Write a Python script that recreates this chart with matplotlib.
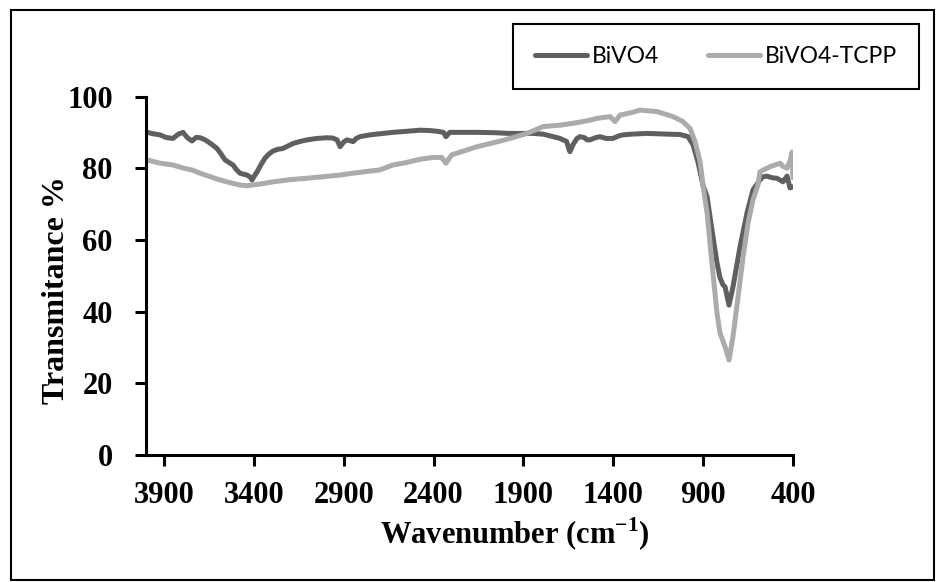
import numpy as np
import matplotlib
matplotlib.use("Agg")
import matplotlib.pyplot as plt
from matplotlib.patches import Rectangle

# FTIR data (wavenumber cm-1, transmittance %)
wn_bivo4 = [3994, 3960, 3922, 3890, 3850, 3820, 3794, 3770, 3744, 3720, 3699, 3675,
            3655, 3630, 3605, 3580, 3560, 3535, 3516, 3495, 3477, 3455, 3438, 3420,
            3410, 3395, 3382, 3360, 3338, 3315, 3293, 3265, 3238, 3210, 3182, 3140,
            3104, 3050, 2993, 2960, 2937, 2920, 2900, 2882, 2860, 2848, 2830, 2809,
            2754, 2700, 2626, 2550, 2475, 2420, 2381, 2345, 2331, 2310, 2292, 2220,
            2158, 2060, 1975, 1880, 1847, 1791, 1735, 1696, 1680, 1660, 1645, 1641,
            1625, 1602, 1585, 1560, 1546, 1529, 1500, 1474, 1440, 1402, 1370, 1346,
            1300, 1212, 1100, 1029, 984, 956, 929, 901, 878, 851, 823, 806, 790, 778,
            756, 734, 695, 656, 623, 584, 567, 545, 528, 511, 490, 472, 456, 433,
            417, 400]
t_bivo4 = [90.0, 89.6, 89.3, 88.6, 88.3, 89.5, 90.0, 88.5, 87.6, 88.6, 88.5, 88.0,
           87.4, 86.5, 85.5, 83.8, 82.3, 81.5, 80.9, 79.5, 78.6, 78.3, 78.1, 77.5,
           76.7, 78.0, 79.0, 81.0, 82.8, 84.0, 84.8, 85.3, 85.5, 86.2, 86.9, 87.5,
           87.9, 88.3, 88.5, 88.4, 87.9, 86.0, 87.3, 87.9, 87.6, 87.4, 88.3, 88.8,
           89.3, 89.6, 90.0, 90.3, 90.6, 90.5, 90.3, 90.0, 88.8, 90.0, 90.0, 90.0,
           90.0, 89.9, 89.7, 89.7, 89.7, 89.5, 88.8, 88.3, 87.9, 87.5, 85.0, 84.6,
           86.5, 88.3, 88.8, 88.5, 87.9, 87.9, 88.5, 88.8, 88.3, 88.3, 89.0, 89.3,
           89.5, 89.7, 89.5, 89.4, 88.8, 86.5, 81.8, 75.3, 72.0, 62.8, 53.6, 49.4,
           47.5, 46.9, 41.8, 46.9, 58.0, 67.5, 73.9, 76.7, 77.6, 77.8, 77.5, 77.3,
           77.2, 76.7, 76.2, 77.8, 74.5, 74.8]

wn_tcpp = [3994, 3922, 3850, 3790, 3744, 3699, 3640, 3600, 3550, 3520, 3477, 3438,
           3410, 3350, 3293, 3200, 3104, 3000, 2920, 2850, 2754, 2700, 2626, 2550,
           2475, 2400, 2355, 2331, 2300, 2158, 2050, 1975, 1880, 1791, 1696, 1602,
           1529, 1491, 1418, 1390, 1363, 1300, 1251, 1157, 1068, 1012, 973, 945,
           917, 901, 878, 851, 823, 806, 778, 756, 734, 706, 678, 650, 623, 595,
           584, 528, 472, 456, 433, 417, 405, 400]
t_tcpp = [82.3, 81.4, 80.9, 80.0, 79.5, 78.6, 77.6, 76.9, 76.2, 75.8, 75.3, 75.1,
          75.3, 75.7, 76.2, 76.8, 77.2, 77.7, 78.1, 78.6, 79.2, 79.5, 80.9, 81.6,
          82.5, 83.0, 83.0, 81.4, 83.7, 86.0, 87.3, 88.3, 89.7, 91.6, 92.0, 92.7,
          93.4, 93.9, 94.4, 93.0, 94.8, 95.5, 96.2, 95.8, 94.4, 93.0, 91.1, 87.4,
          81.8, 75.3, 67.5, 53.6, 39.6, 34.0, 30.2, 26.5, 33.0, 44.0, 55.2, 64.7,
          71.1, 75.3, 79.0, 80.4, 81.4, 80.5, 80.0, 82.0, 84.5, 77.3]

x_ticks = [3900, 3400, 2900, 2400, 1900, 1400, 900, 400]
y_ticks = [0, 20, 40, 60, 80, 100]

plt.rcParams['mathtext.fontset'] = 'custom'
plt.rcParams['mathtext.rm'] = 'Liberation Serif:bold'
plt.rcParams['mathtext.bf'] = 'Liberation Serif:bold'

W, H = 938, 582
fig = plt.figure(figsize=(W / 100, H / 100), dpi=100)
ax = fig.add_axes([146 / W, 1 - 455 / H, 647 / W, (455 - 96.5) / H])

ax.plot(wn_bivo4, t_bivo4, color='#5f5f5f', lw=3.6, solid_capstyle='round',
        label='BiVO4')
ax.plot(wn_tcpp, t_tcpp, color='#ababab', lw=3.6, solid_capstyle='round',
        label='BiVO4-TCPP')

ax.set_xlim(4000, 400)
ax.set_ylim(0, 100)
ax.set_xticks(x_ticks)
ax.set_yticks(y_ticks)
for side in ['top', 'right']:
    ax.spines[side].set_visible(False)
for side in ['left', 'bottom']:
    ax.spines[side].set_linewidth(2.2)
ax.tick_params(direction='out', length=8, width=2.2)
ax.tick_params(axis='y', pad=16)
ax.tick_params(axis='x', pad=11)
for lab in ax.get_xticklabels() + ax.get_yticklabels():
    lab.set_fontfamily('Liberation Serif')
    lab.set_fontweight('bold')
    lab.set_fontsize(22)

fig.text(56 / W, 1 - 290 / H, 'Transmitance %', rotation=90, ha='center',
         va='center', fontfamily='Liberation Serif', fontweight='bold', fontsize=23)
fig.text(515 / W, 1 - 534 / H, r'Wavenumber (cm$^{\mathbf{-1}}$)', ha='center',
         va='center', fontfamily='Liberation Serif', fontweight='bold', fontsize=22)

leg = fig.legend(loc='center', ncol=2, mode='expand',
                 bbox_to_anchor=(513 / W, 1 - 88 / H, 406 / W, 63 / H),
                 prop={'family': 'Lato', 'size': 16.5}, handlelength=2.3,
                 handletextpad=0.2, columnspacing=1.5, borderpad=0.95,
                 borderaxespad=0, fancybox=False, framealpha=1)
leg.get_frame().set_edgecolor('black')
leg.get_frame().set_linewidth(1.5)

fig.patches.append(Rectangle((11 / W, 2 / H), 923 / W, 570 / H,
                             transform=fig.transFigure, fill=False,
                             edgecolor='black', lw=1.5))

fig.savefig('out.png', dpi=100)
